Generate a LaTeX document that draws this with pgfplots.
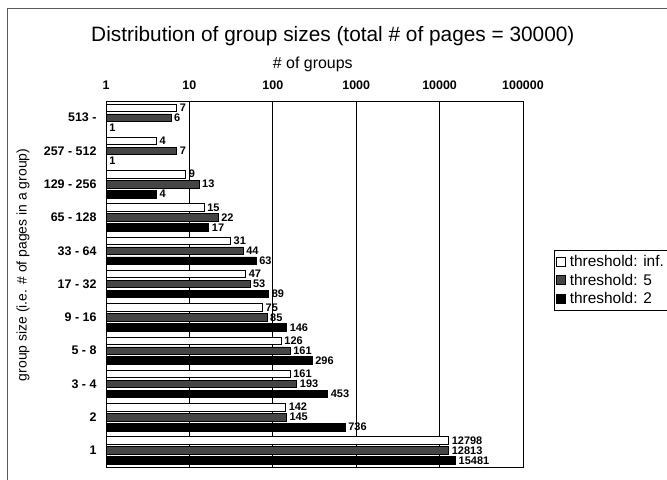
\documentclass[border=0pt]{standalone}
\usepackage{fontspec}
\setmainfont{Liberation Sans}
\usepackage{pgfplots}
\usepackage{pgfplotstable}
\pgfplotsset{compat=1.18}

\pgfplotstableread{
y inf five two
0 12798 12813 15481
1 142 145 736
2 161 193 453
3 126 161 296
4 75 85 146
5 47 53 89
6 31 44 63
7 15 22 17
8 9 13 4
9 4 7 1
10 7 6 1
}\datatable

\definecolor{darkdither}{gray}{0.27}

\pgfplotsset{
  xbar legend/.style={
    legend image code/.code={\draw[##1, line width=0.6bp] (0bp,-4.5bp) rectangle (9bp,4.5bp);}
  }
}

\begin{document}
\begin{tikzpicture}
\useasboundingbox (0,0) rectangle (667bp,480bp);
\draw[black!65, line width=0.9bp] (7bp,0) -- (7bp,472bp) -- (667bp,472bp);
\begin{axis}[
  at={(106bp,13bp)}, anchor=south west,
  scale only axis, width=417bp, height=366bp,
  xmode=log, log origin=0,
  xmin=1, xmax=100000,
  ymin=-0.5, ymax=10.5,
  xbar, bar width=0.225,
  xticklabel pos=upper,
  xtick={1,10,100,1000,10000,100000},
  xticklabels={1,10,100,1000,10000,100000},
  ytick={0,1,2,3,4,5,6,7,8,9,10},
  yticklabels={1,2,3 - 4,5 - 8,9 - 16,17 - 32,33 - 64,65 - 128,129 - 256,257 - 512,513 -},
  major tick length=0, minor tick length=0,
  xminorticks=false,
  xmajorgrids, grid style={black, line width=0.7bp},
  axis line style={black, line width=0.8bp},
  /pgf/number format/assume math mode=true,
  tick label style={font=\fontsize{12.5}{14}\selectfont\bfseries},
  xticklabel style={yshift=8bp},
  yticklabel style={xshift=-6bp},
  title={Distribution of group sizes (total \# of pages = 30000)},
  title style={at={(axis description cs:0.544,1.16)}, anchor=center, font=\fontsize{20.9}{24}\selectfont},
  xlabel={\# of groups},
  xlabel style={at={(axis description cs:0.496,1.1)}, anchor=center, font=\fontsize{16}{18}\selectfont},
  ylabel={group size (i.e. \# of pages in a group)},
  ylabel style={at={(axis description cs:-0.199,0.552)}, anchor=center, font=\fontsize{14}{17}\selectfont},
  nodes near coords,
  point meta=explicit symbolic,
  nodes near coords style={font=\fontsize{11}{12}\selectfont\bfseries, inner xsep=3bp, inner ysep=0bp, anchor=west},
  legend cell align=left,
  legend style={at={(axis description cs:1.074,0.593)}, anchor=north west,
    draw=black, line width=0.6bp, font=\fontsize{15.5}{18}\selectfont,
    row sep=2bp, column sep=2bp, inner xsep=2bp, inner ysep=3bp},
]
\addplot[draw=black, fill=white, line width=0.6bp, bar shift=0.3] table[x=inf, y=y, meta=inf] {\datatable};
\addlegendentry{threshold: inf.}
\addplot[draw=black, fill=darkdither, line width=0.6bp, bar shift=0] table[x=five, y=y, meta=five] {\datatable};
\addlegendentry{threshold: 5}
\addplot[draw=black, fill=black, line width=0.6bp, bar shift=-0.3] table[x=two, y=y, meta=two] {\datatable};
\addlegendentry{threshold: 2}
\end{axis}
\end{tikzpicture}
\end{document}
